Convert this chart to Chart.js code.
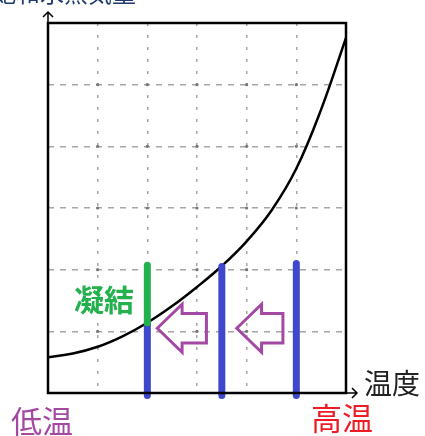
<!DOCTYPE html>
<html>
<head>
<meta charset="utf-8">
<script src="https://cdn.jsdelivr.net/npm/chart.js@4.4.1/dist/chart.umd.min.js"></script>
<style>
body{margin:0;background:#fff;}
#wrap{width:425px;height:436px;position:relative;}
</style>
</head>
<body>
<div id="wrap"><canvas id="chart"></canvas></div>
<script>
// saturation curve (温度 -> 飽和水蒸気量)
const curveX = [0, 0.5, 1, 1.5, 2, 2.5, 3, 3.5, 4, 4.5, 5, 5.5, 6];
const curveY = [0.58, 0.64, 0.75, 0.92, 1.14, 1.41, 1.72, 2.06, 2.46, 2.96, 3.64, 4.6, 5.76];

// vertical bars: x position, bottom, top
const barX = [2, 3.5, 5];
const barTop = [1.14, 2.05, 2.1];
const barBottom = -0.04;
const greenTop = 2.07;

// hollow arrows pointing left
const arrowTip = [2.2, 3.8];
const arrowTail = [3.19, 4.73];
const arrowY = 1.05;

const BLUE = '#3f48cc';
const GREEN = '#22b14c';
const PURPLE = '#a349a4';
const RED = '#ed1c24';

function pts(xs, ys){
    return xs.map((x, i) => ({x: x, y: ys[i]}));
}

let datasets = [];
datasets.push({
    data: [{x: barX[0], y: barTop[0]}, {x: barX[0], y: greenTop}],
    borderColor: GREEN, borderWidth: 7, borderCapStyle: 'round',
    pointRadius: 0, clip: false
});
barX.forEach((x, i) => {
    datasets.push({
        data: [{x: x, y: barBottom}, {x: x, y: barTop[i]}],
        borderColor: BLUE, borderWidth: 7, borderCapStyle: 'round',
        pointRadius: 0, clip: false
    });
});
datasets.push({
    data: pts(curveX, curveY),
    borderColor: '#000', borderWidth: 2.5,
    tension: 0.4,
    pointRadius: 0
});

const decor = {
    id: 'decor',
    beforeDatasetsDraw(chart){
        const ctx = chart.ctx;
        const xs = chart.scales.x, ys = chart.scales.y;
        // dots at grid crossings
        ctx.save();
        ctx.fillStyle = '#777';
        for(let i = 1; i < 6; i++){
            for(let j = 1; j < 6; j++){
                ctx.beginPath();
                ctx.arc(xs.getPixelForValue(i), ys.getPixelForValue(j), 1.6, 0, Math.PI * 2);
                ctx.fill();
            }
        }
        ctx.restore();
    },
    afterDraw(chart){
        const ctx = chart.ctx;
        const a = chart.chartArea;
        const xs = chart.scales.x, ys = chart.scales.y;
        ctx.save();
        // frame
        ctx.strokeStyle = '#000';
        ctx.lineWidth = 2.5;
        ctx.strokeRect(a.left, a.top, a.right - a.left, a.bottom - a.top);
        // axis arrows
        ctx.lineWidth = 1.5;
        ctx.beginPath();
        ctx.moveTo(a.left, a.top); ctx.lineTo(a.left, a.top - 11);
        ctx.moveTo(a.left - 5, a.top - 6); ctx.lineTo(a.left, a.top - 11); ctx.lineTo(a.left + 5, a.top - 6);
        ctx.moveTo(a.right, a.bottom); ctx.lineTo(a.right + 11, a.bottom);
        ctx.moveTo(a.right + 6, a.bottom - 5); ctx.lineTo(a.right + 11, a.bottom); ctx.lineTo(a.right + 6, a.bottom + 5);
        ctx.stroke();

        // hollow arrows
        ctx.strokeStyle = PURPLE;
        ctx.lineWidth = 3;
        ctx.lineJoin = 'miter';
        arrowTip.forEach((tip, i) => {
            const xt = xs.getPixelForValue(tip);
            const xb = xs.getPixelForValue(tip + 0.5);
            const xe = xs.getPixelForValue(arrowTail[i]);
            const yc = ys.getPixelForValue(arrowY);
            const hh = ys.getPixelForValue(arrowY - 0.39) - yc;
            const sh = ys.getPixelForValue(arrowY - 0.24) - yc;
            ctx.beginPath();
            ctx.moveTo(xt, yc);
            ctx.lineTo(xb, yc - hh);
            ctx.lineTo(xb, yc - sh);
            ctx.lineTo(xe, yc - sh);
            ctx.lineTo(xe, yc + sh);
            ctx.lineTo(xb, yc + sh);
            ctx.lineTo(xb, yc + hh);
            ctx.closePath();
            ctx.stroke();
        });

        // texts
        const font = '"Noto Sans CJK JP", "Noto Sans CJK SC", sans-serif';
        ctx.textBaseline = 'middle';
        ctx.textAlign = 'center';
        ctx.font = 'bold 30px ' + font;
        ctx.fillStyle = GREEN;
        ctx.fillText('凝結', 104, 300);
        ctx.font = '28px ' + font;
        ctx.fillStyle = '#222';
        ctx.fillText('温度', 392, 383);
        ctx.font = '31px ' + font;
        ctx.fillStyle = RED;
        ctx.fillText('高温', 342, 418);
        ctx.fillStyle = PURPLE;
        ctx.fillText('低温', 42, 421);
        ctx.font = '24px ' + font;
        ctx.fillStyle = '#203a70';
        ctx.textAlign = 'right';
        ctx.textBaseline = 'alphabetic';
        ctx.fillText('飽和水蒸気量', 136, 2);
        ctx.restore();
    }
};

new Chart(
    document.getElementById('chart'),
    {
        type: 'line',
        data: {datasets: datasets},
        options: {
            maintainAspectRatio: false,
            animation: false,
            events: [],
            layout: {padding: {left: 48, top: 23, right: 79, bottom: 43}},
            plugins: {
                legend: {display: false},
                tooltip: {enabled: false}
            },
            scales: {
                x: {
                    type: 'linear', min: 0, max: 6,
                    ticks: {display: false, stepSize: 1},
                    grid: {color: '#a6a6a6', lineWidth: 1.5, drawTicks: false},
                    border: {display: false, dash: [3, 9]}
                },
                y: {
                    type: 'linear', min: 0, max: 6,
                    ticks: {display: false, stepSize: 1},
                    grid: {color: '#a6a6a6', lineWidth: 1.5, drawTicks: false},
                    border: {display: false, dash: [6, 6]}
                }
            }
        },
        plugins: [decor]
    }
);
</script>
</body>
</html>
